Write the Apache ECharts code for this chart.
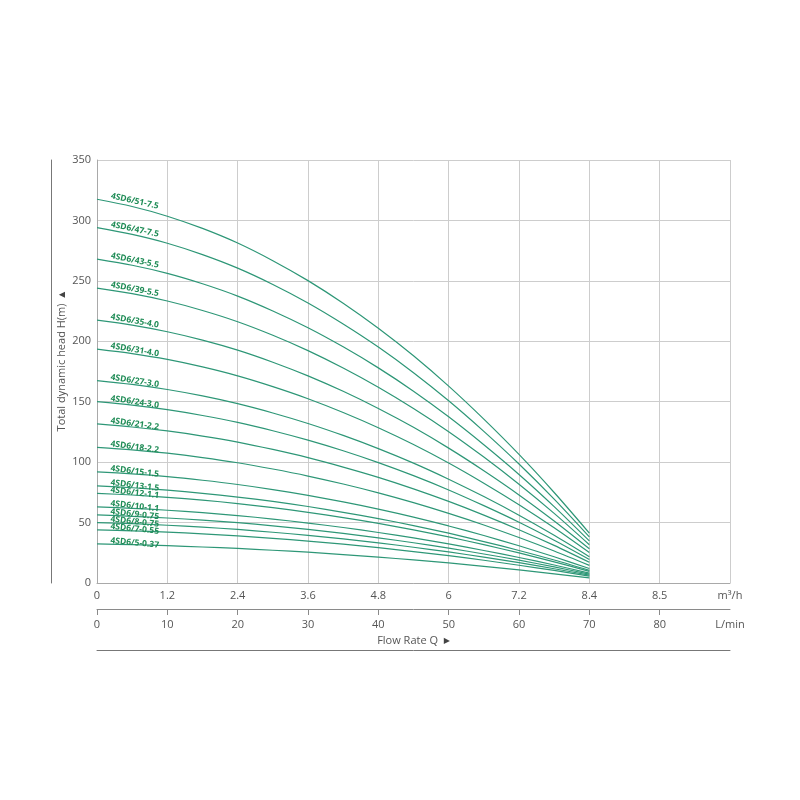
<!DOCTYPE html>
<html>
<head>
<meta charset="utf-8">
<script src="https://cdn.jsdelivr.net/npm/echarts@6/dist/echarts.min.js"></script>
<style>html,body{margin:0;padding:0;background:#fff}#c{width:800px;height:800px}</style>
</head>
<body>
<div id="c"></div>
<script>
// Flow rate points (L/min)
const flowLmin = [0, 5, 10, 15, 20, 25, 30, 35, 40, 45, 50, 55, 60, 65, 70];
// Tick labels
const m3hLabels = ['0', '1.2', '2.4', '3.6', '4.8', '6', '7.2', '8.4', '8.5', 'm\u00B3/h'];
const lminLabels = ['0', '10', '20', '30', '40', '50', '60', '70', '80', 'L/min'];
// Pump models
const models = ['4SD6/51-7.5', '4SD6/47-7.5', '4SD6/43-5.5', '4SD6/39-5.5', '4SD6/35-4.0', '4SD6/31-4.0',
  '4SD6/27-3.0', '4SD6/24-3.0', '4SD6/21-2.2', '4SD6/18-2.2', '4SD6/15-1.5', '4SD6/13-1.5',
  '4SD6/12-1.1', '4SD6/10-1.1', '4SD6/9-0.75', '4SD6/8-0.75', '4SD6/7-0.55', '4SD6/5-0.37'];
// Head values (m) at each flow point
const head51 = [317.5, 311.5, 303.5, 293.4, 281.3, 266.7, 250.2, 231.5, 210.8, 188, 162.9, 135.6, 106.4, 74.9, 41.3];
const head47 = [294, 288.4, 281.1, 271.7, 260.5, 247, 231.7, 214.3, 195.2, 174, 150.8, 125.5, 98.5, 69.4, 38.2];
const head43 = [268, 262.9, 256.2, 247.6, 237.4, 225.1, 211.2, 195.4, 178, 158.7, 137.5, 114.4, 89.8, 63.2, 34.8];
const head39 = [244, 239.4, 233.3, 225.5, 216.2, 205, 192.3, 177.9, 162, 144.4, 125.2, 104.2, 81.7, 57.6, 31.7];
const head35 = [217.5, 213.4, 207.9, 201, 192.7, 182.7, 171.4, 158.6, 144.4, 128.8, 111.6, 92.9, 72.9, 51.3, 28.3];
const head31 = [193.5, 189.8, 185, 178.8, 171.4, 162.5, 152.5, 141.1, 128.5, 114.6, 99.3, 82.6, 64.8, 45.7, 25.2];
const head27 = [167.5, 164.3, 160.1, 154.8, 148.4, 140.7, 132, 122.1, 111.2, 99.2, 85.9, 71.5, 56.1, 39.5, 21.8];
const head24 = [150, 147.2, 143.4, 138.6, 132.9, 126, 118.2, 109.4, 99.6, 88.8, 77, 64, 50.3, 35.4, 19.5];
const head21 = [131.6, 129.1, 125.8, 121.6, 116.6, 110.5, 103.7, 95.9, 87.4, 77.9, 67.5, 56.2, 44.1, 31.1, 17.1];
const head18 = [112.3, 110.2, 107.4, 103.8, 99.5, 94.3, 88.5, 81.9, 74.6, 66.5, 57.6, 48, 37.6, 26.5, 14.6];
const head15 = [92, 90.3, 88, 85, 81.5, 77.3, 72.5, 67.1, 61.1, 54.5, 47.2, 39.3, 30.8, 21.7, 12];
const head13 = [80.3, 78.8, 76.8, 74.2, 71.1, 67.5, 63.3, 58.5, 53.3, 47.5, 41.2, 34.3, 26.9, 19, 10.4];
const head12 = [74.2, 72.8, 70.9, 68.6, 65.7, 62.3, 58.5, 54.1, 49.3, 43.9, 38.1, 31.7, 24.9, 17.5, 9.6];
const head10 = [63, 61.8, 60.2, 58.2, 55.8, 52.9, 49.6, 45.9, 41.8, 37.3, 32.3, 26.9, 21.1, 14.9, 8.2];
const head9 = [56.3, 55.2, 53.8, 52, 49.9, 47.3, 44.4, 41, 37.4, 33.3, 28.9, 24, 18.9, 13.3, 7.3];
const head8 = [50, 49.1, 47.8, 46.2, 44.3, 42, 39.4, 36.5, 33.2, 29.6, 25.7, 21.4, 16.8, 11.8, 6.5];
const head7 = [44, 43.2, 42.1, 40.7, 39, 37, 34.7, 32.1, 29.2, 26, 22.6, 18.8, 14.7, 10.4, 5.7];
const head5 = [32.3, 31.7, 30.9, 29.8, 28.6, 27.1, 25.5, 23.5, 21.4, 19.1, 16.6, 13.8, 10.8, 7.6, 4.2];

const heads = [head51, head47, head43, head39, head35, head31, head27, head24, head21, head18,
  head15, head13, head12, head10, head9, head8, head7, head5];

const FONT = "'Open Sans', 'DejaVu Sans', sans-serif";
const LINE_COLOR = '#2e9777';
const LABEL_COLOR = '#1f8c56';

const series = models.map((name, i) => {
  const h = heads[i];
  const rot = -(5 + 7.5 * h[0] / 317);
  return {
    name: name,
    type: 'line',
    smooth: 0.3,
    showSymbol: false,
    symbol: 'none',
    silent: true,
    lineStyle: { color: LINE_COLOR, width: 1.2 },
    data: flowLmin.map((q, k) => [q, h[k]]),
    markPoint: {
      silent: true,
      symbol: 'circle',
      symbolSize: 0,
      itemStyle: { color: 'rgba(0,0,0,0)' },
      data: [{ coord: [flowLmin[0], h[0]] }],
      label: {
        show: true,
        formatter: name,
        position: [13, 1],
        align: 'left',
        verticalAlign: 'bottom',
        rotate: rot,
        color: LABEL_COLOR,
        fontSize: 8.5,
        fontWeight: 'bold',
        fontFamily: FONT
      }
    }
  };
});

const chart = echarts.init(document.getElementById('c'), null, { renderer: 'canvas' });
chart.setOption({
  animation: false,
  backgroundColor: '#ffffff',
  grid: { left: 97, right: 70, top: 160, bottom: 217, containLabel: false },
  xAxis: [
    {
      type: 'value', min: 0, max: 90, interval: 10, position: 'bottom',
      axisLine: { show: true, onZero: false, lineStyle: { color: '#a9a9a9', width: 1 } },
      axisTick: { show: false },
      axisLabel: { formatter: v => m3hLabels[Math.round(v / 10)], margin: 7, color: '#555', fontSize: 11, fontFamily: FONT, showMaxLabel: true, showMinLabel: true },
      splitLine: { show: true, lineStyle: { color: '#cdcdcd', width: 1 } }
    },
    {
      type: 'value', min: 0, max: 90, interval: 10, position: 'bottom', offset: 26,
      axisLine: { show: true, onZero: false, lineStyle: { color: '#8a8a8a', width: 1 } },
      axisTick: { show: true, length: 6, lineStyle: { color: '#8a8a8a' }, customValues: [0, 10, 20, 30, 40, 50, 60, 70, 80] },
      axisLabel: { formatter: v => lminLabels[Math.round(v / 10)], margin: 10, color: '#555', fontSize: 11, fontFamily: FONT, showMaxLabel: true, showMinLabel: true },
      splitLine: { show: false },
      name: 'Flow Rate Q  {t|\u25B6}',
      nameLocation: 'middle',
      nameGap: 26,
      nameTextStyle: { color: '#555', fontSize: 11, fontFamily: FONT, rich: { t: { fontSize: 8, color: '#444', fontFamily: FONT } } }
    },
    {
      type: 'value', min: 0, max: 90, position: 'bottom', offset: 67,
      axisLine: { show: true, onZero: false, lineStyle: { color: '#777', width: 1 } },
      axisTick: { show: false }, axisLabel: { show: false }, splitLine: { show: false }
    }
  ],
  yAxis: [
    {
      type: 'value', min: 0, max: 350, interval: 50,
      axisLine: { show: true, onZero: false, lineStyle: { color: '#a9a9a9', width: 1 } },
      axisTick: { show: false },
      axisLabel: { margin: 6, color: '#555', fontSize: 11, fontFamily: FONT },
      splitLine: { show: true, lineStyle: { color: '#cdcdcd', width: 1 } },
      name: 'Total dynamic head H(m)  {t|\u25B2}',
      nameLocation: 'middle',
      nameGap: 30,
      nameMoveOverlap: false,
      nameTextStyle: { color: '#555', fontSize: 11, fontFamily: FONT, padding: [0, 0, 0, 20], rich: { t: { fontSize: 8, color: '#444', fontFamily: FONT } } }
    },
    {
      type: 'value', min: 0, max: 350, position: 'left', offset: 46,
      axisLine: { show: true, onZero: false, lineStyle: { color: '#777', width: 1 } },
      axisTick: { show: false }, axisLabel: { show: false }, splitLine: { show: false }
    }
  ],
  series: series
});
</script>
</body>
</html>
